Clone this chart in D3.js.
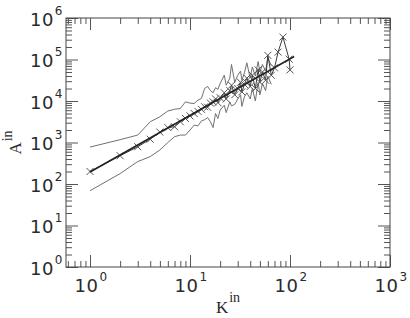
<!DOCTYPE html>
<html><head><meta charset="utf-8">
<script src="https://cdn.jsdelivr.net/npm/d3@7"></script>
<style>html,body{margin:0;padding:0;background:#fff;}svg{display:block;}</style>
</head><body>
<svg id="c" width="410" height="318"></svg>
<script>
// ---- data ----
const kMain = [1,2,3,4,5,6,7,8,9,10,11,12,13,14,15,16,17,18,19,20,22,23,25,26,28,30,32,33,35,37,40,42,45,48,50,53,57,60,65,70,76,85,98,100];
const aMain = [200,480,790,1200,1780,2290,2400,3160,3800,4370,5000,5620,6310,7240,7080,8910,9550,11200,9120,12000,
               15800,11200,17800,24000,14100,20000,28200,16600,25100,35500,22400,41700,20000,56200,28200,50100,31600,
               126000,41700,63100,151000,347000,102000,56200];
const kBand = [1,2,3,4,5,6,7,8,9,10,11,12,13,14,15,16,17,18,19,20,22,23,25,26,28,30,32,33,35,37,40,42,45,48,50,53,57,60,65];
const aUpper = [776,1170,1510,3160,4170,5750,6310,6610,9550,8910,8710,10500,11500,20000,22400,17800,15800,20900,19100,26300,
                41700,24000,35500,75900,28200,41700,52500,31600,47900,83200,35500,66100,39800,89100,50100,75900,52500,112000,70800];
const aLower = [69,178,347,457,661,1000,1380,1510,1510,2000,2630,2510,3310,3550,3980,3160,2290,5010,3800,6030,
                7940,5250,9550,7590,8320,11200,14100,7410,12600,15800,11200,20000,10000,28200,14100,26300,17800,39800,25100];
const kFit = [1, 110];
const aFit = [195, 118000];
const xMajor = [1, 10, 100, 1000];
const xExp = ["0","1","2","3"];
const yMajor = [1, 10, 100, 1000, 10000, 100000, 1000000];
const yExp = ["0","1","2","3","4","5","6"];
const xTitle = "K", xTitleSup = "in";
const yTitle = "A", yTitleSup = "in";

// ---- layout ----
const L = 66, R = 390, T = 18, B = 267;
const svg = d3.select("#c");
const x = d3.scaleLog().domain([0.575, 1000]).range([L, R]);
const y = d3.scaleLog().domain([1, 1e6]).range([B, T]);

const xMinor = [];
[0.1, 1, 10, 100].forEach(d => { for (let m = 2; m <= 9; m++) { const v = d * m; if (v >= 0.575 && v < 1000) xMinor.push(v); } });
const yMinor = [];
[1, 10, 100, 1000, 10000, 100000].forEach(d => { for (let m = 2; m <= 9; m++) yMinor.push(d * m); });

const tickCol = "#555";
function styleAxis(g) {
  g.select(".domain").remove();
  g.selectAll("line").attr("stroke", tickCol).attr("stroke-width", 1);
  g.selectAll("text").remove();
}
const axes = [
  [d3.axisBottom, x, `translate(0,${B})`, xMajor, xMinor],
  [d3.axisTop, x, `translate(0,${T})`, xMajor, xMinor],
  [d3.axisLeft, y, `translate(${L},0)`, yMajor, yMinor],
  [d3.axisRight, y, `translate(${R},0)`, yMajor, yMinor]
];
axes.forEach(([fn, sc, tr, maj, min]) => {
  svg.append("g").attr("transform", tr).call(fn(sc).tickValues(min).tickSize(-6).tickFormat("")).call(styleAxis);
  svg.append("g").attr("transform", tr).call(fn(sc).tickValues(maj).tickSize(-12).tickFormat("")).call(styleAxis);
});
svg.append("rect").attr("x", L).attr("y", T).attr("width", R - L).attr("height", B - T)
  .attr("fill", "none").attr("stroke", "#444").attr("stroke-width", 1);

// ---- tick labels ----
const lblFont = "DejaVu Sans";
const lblCol = "#2a2a2a";
xMajor.forEach((v, i) => {
  const t = svg.append("text").attr("x", x(v) + 1).attr("y", 291.5).attr("text-anchor", "middle")
    .attr("font-family", lblFont).attr("font-size", 18).attr("fill", lblCol).attr("letter-spacing", 0.5);
  t.append("tspan").text("10");
  t.append("tspan").attr("dy", -11).attr("font-size", 12).attr("dx", 1).text(xExp[i]);
});
yMajor.forEach((v, i) => {
  const t = svg.append("text").attr("x", 63).attr("y", y(v) + 7.5).attr("text-anchor", "end")
    .attr("font-family", lblFont).attr("font-size", 18).attr("fill", lblCol).attr("letter-spacing", 0.5);
  t.append("tspan").text("10");
  t.append("tspan").attr("dy", -11).attr("font-size", 12).attr("dx", 1).text(yExp[i]);
});

// ---- axis titles ----
const ttlFont = "Liberation Serif";
const xt = svg.append("text").attr("x", (L + R) / 2).attr("y", 312.5).attr("text-anchor", "middle")
  .attr("font-family", ttlFont).attr("font-size", 17).attr("fill", lblCol);
xt.append("tspan").text(xTitle);
xt.append("tspan").attr("dy", -11).attr("dx", 1).attr("font-size", 14).text(xTitleSup);
const yt = svg.append("text").attr("transform", `translate(21,${(T + B) / 2}) rotate(-90)`).attr("text-anchor", "middle")
  .attr("font-family", ttlFont).attr("font-size", 17).attr("fill", lblCol);
yt.append("tspan").text(yTitle);
yt.append("tspan").attr("dy", -9).attr("dx", 1).attr("font-size", 14).text(yTitleSup);

// ---- marks ----
const plot = svg.append("g");
const line = d3.line().x(d => x(d[0])).y(d => y(d[1]));
plot.append("path").datum(d3.zip(kBand, aUpper)).attr("d", line)
  .attr("fill", "none").attr("stroke", "#707070").attr("stroke-width", 1);
plot.append("path").datum(d3.zip(kBand, aLower)).attr("d", line)
  .attr("fill", "none").attr("stroke", "#707070").attr("stroke-width", 1);
plot.append("path").datum(d3.zip(kMain, aMain)).attr("d", line)
  .attr("fill", "none").attr("stroke", "#3a3a3a").attr("stroke-width", 1);
const s = 3.5;
plot.selectAll("path.cross").data(d3.zip(kMain, aMain)).join("path").attr("class", "cross")
  .attr("d", d => { const cx = x(d[0]), cy = y(d[1]);
    return `M${cx - s},${cy - s}L${cx + s},${cy + s}M${cx - s},${cy + s}L${cx + s},${cy - s}`; })
  .attr("stroke", "#555").attr("stroke-width", 1).attr("fill", "none");
plot.append("path").datum(d3.zip(kFit, aFit)).attr("d", line)
  .attr("fill", "none").attr("stroke", "#222").attr("stroke-width", 1.6);
</script>
</body></html>
